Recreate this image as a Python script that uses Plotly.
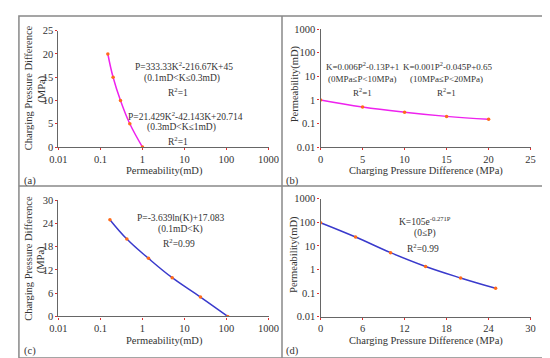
import plotly.graph_objects as go

W, H = 550, 358

# ---- data ----
a_perm = [0.15, 0.2, 0.3, 0.5, 1.0]
a_pres = [20, 15, 10, 5, 0]

b_pres = [0, 5, 10, 15, 20]
b_perm = [1.0, 0.5, 0.3, 0.2, 0.15]

c_perm = [0.168, 0.425, 1.39, 5.1, 24, 107]
c_pres = [25, 20, 15, 10, 5, 0]

d_pres = [0, 5, 10, 15, 20, 25]
d_perm = [97, 24, 5.2, 1.35, 0.44, 0.16]

log_ticks = [0.01, 0.1, 1, 10, 100, 1000]
log_labels = ["0.01", "0.1", "1", "10", "100", "1000"]

FONT = "Liberation Serif"
TXT = "#333333"
MAG = "#ee22ee"
BLUE = "#3a3acc"
MK = "#ff6a1a"


def px(x):
    return x / W


def py(y):
    return 1 - y / H


fig = go.Figure()

def add(xv, yv, color, xa, ya):
    fig.add_trace(go.Scatter(x=xv, y=yv, mode="lines", line=dict(color=color, width=1.5, shape="spline", smoothing=1.2),
                             xaxis=xa, yaxis=ya, showlegend=False, hoverinfo="skip"))
    fig.add_trace(go.Scatter(x=xv, y=yv, mode="markers", marker=dict(color=MK, size=3.5, symbol="circle"),
                             xaxis=xa, yaxis=ya, showlegend=False))

add(a_perm, a_pres, MAG, "x", "y")
add(b_pres, b_perm, MAG, "x2", "y2")
add(c_perm, c_pres, BLUE, "x3", "y3")
add(d_pres, d_perm, BLUE, "x4", "y4")

common = dict(showgrid=False, zeroline=False, showline=True, linecolor="#666666", linewidth=1.4,
              ticks="outside", ticklen=2, tickcolor="#e03030", tickwidth=1,
              tickfont=dict(family=FONT, size=10.5, color=TXT), mirror=False)

logx = dict(type="log", range=[-2, 3], tickvals=log_ticks, ticktext=log_labels)
logy = dict(type="log", range=[-2, 3], tickvals=log_ticks, ticktext=log_labels)

# domains from pixel boxes
dom = {
    "a": ([43, 261], [18.3, 138.3]),
    "b": ([315, 533], [16.7, 138.3]),
    "c": ([43, 261], [193.3, 313]),
    "d": ([315, 533], [191.7, 313.3]),
}

def xd(k):
    return [px(dom[k][0][0]), px(dom[k][0][1])]

def yd(k):
    return [py(dom[k][1][1]), py(dom[k][1][0])]

fig.update_layout(
    width=W, height=H, margin=dict(l=0, r=0, t=0, b=0),
    paper_bgcolor="white", plot_bgcolor="white",
    xaxis=dict(domain=xd("a"), anchor="y", **logx, **common),
    yaxis=dict(domain=yd("a"), anchor="x", range=[0, 25], dtick=5, **common),
    xaxis2=dict(domain=xd("b"), anchor="y2", range=[0, 25], dtick=5, **common),
    yaxis2=dict(domain=yd("b"), anchor="x2", **logy, **common),
    xaxis3=dict(domain=xd("c"), anchor="y3", **logx, **common),
    yaxis3=dict(domain=yd("c"), anchor="x3", range=[0, 30], dtick=6, **common),
    xaxis4=dict(domain=xd("d"), anchor="y4", range=[0, 30], dtick=6, **common),
    yaxis4=dict(domain=yd("d"), anchor="x4", **logy, **common),
)

# frame
fc = "#888888"
fig.add_shape(type="rect", xref="paper", yref="paper", x0=px(2), x1=px(547), y0=py(356), y1=py(3),
              line=dict(color=fc, width=1.5))
fig.add_shape(type="line", xref="paper", yref="paper", x0=px(275), x1=px(275), y0=py(356), y1=py(3),
              line=dict(color=fc, width=1.5))
fig.add_shape(type="line", xref="paper", yref="paper", x0=px(2), x1=px(547), y0=py(178.5), y1=py(178.5),
              line=dict(color=fc, width=1.5))


def note(text, x, y, size=9.5, xanchor="center", angle=0):
    fig.add_annotation(text=text, x=px(x), y=py(y), xref="paper", yref="paper", showarrow=False,
                       font=dict(family=FONT, size=size, color=TXT), xanchor=xanchor, yanchor="middle",
                       textangle=angle)

TS = 10.5
# axis titles
note("Permeability(mD)", 153, 163.5, TS)
note("Charging Pressure Difference", 12, 77, TS, angle=-90)
note("(MPa)", 25, 79, TS, angle=-90)
note("Charging Pressure Difference (MPa)", 424, 163, TS)
note("Permeability(mD)", 288, 73, TS, angle=-90)
note("Permeability(mD)", 153, 338, TS)
note("Charging Pressure Difference", 12, 253, TS, angle=-90)
note("(MPa)", 25, 255, TS, angle=-90)
note("Charging Pressure Difference (MPa)", 424, 338, TS)
note("Permeability(mD)", 288, 249, TS, angle=-90)

# panel labels
note("(a)", 5, 173, 10.5, "left")
note("(b)", 277, 173, 10.5, "left")
note("(c)", 5, 349, 10.5, "left")
note("(d)", 277, 349, 10.5, "left")

# equations (a)
note("P=333.33K<sup>2</sup>-216.67K+45", 173, 55)
note("(0.1mD&lt;K≤0.3mD)", 171, 68)
note("R<sup>2</sup>=1", 167, 81)
note("P=21.429K<sup>2</sup>-42.143K+20.714", 175, 106)
note("(0.3mD&lt;K≤1mD)", 171, 118)
note("R<sup>2</sup>=1", 167, 132)
# (b)
ES = 9
note("K=0.006P<sup>2</sup>-0.13P+1", 359, 55, ES)
note("(0MPa≤P&lt;10MPa)", 359, 68, ES)
note("R<sup>2</sup>=1", 359, 81, ES)
note("K=0.001P<sup>2</sup>-0.045P+0.65", 447, 55, ES)
note("(10MPa≤P&lt;20MPa)", 446, 68, ES)
note("R<sup>2</sup>=1", 446, 81, ES)
# (c)
note("P=-3.639ln(K)+17.083", 170, 212)
note("(0.1mD&lt;K)", 170, 223)
note("R<sup>2</sup>=0.99", 168, 237)
# (d)
note("K=105e<sup>-0.271P</sup>", 423, 215)
note("(0≤P)", 423, 227)
note("R<sup>2</sup>=0.99", 421, 242)

fig.write_html("out.html")
